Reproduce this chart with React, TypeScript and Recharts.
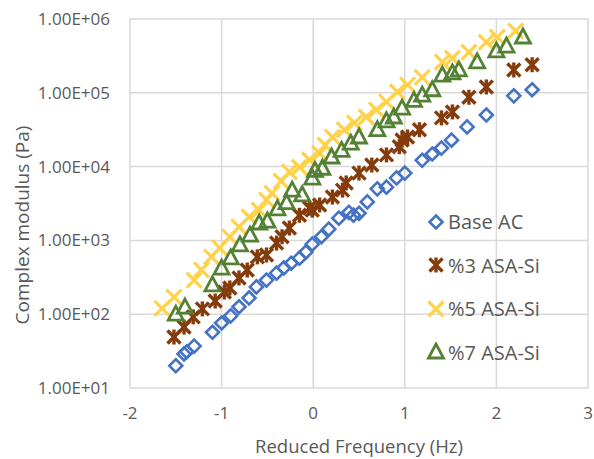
import { CartesianGrid, Legend, Scatter, ScatterChart, XAxis, YAxis } from "recharts";

// Base AC
const baseX = [-1.5, -1.41, -1.38, -1.3, -1.1, -1.0, -0.9, -0.81, -0.7, -0.62, -0.51, -0.4, -0.32, -0.24, -0.15, -0.08, -0.01, 0.09, 0.17, 0.28, 0.39, 0.44, 0.5, 0.59, 0.7, 0.8, 0.91, 1.0, 1.19, 1.3, 1.4, 1.51, 1.68, 1.89, 2.19, 2.39];
const baseY = [20, 29, 31, 37, 57, 76, 95, 126, 166, 234, 290, 360, 425, 490, 575, 695, 890, 1120, 1420, 2000, 2400, 2200, 2330, 3320, 5000, 5270, 7030, 8170, 12200, 14800, 17800, 22800, 34500, 50000, 91000, 110000];

// %3 ASA-Si
const asa3X = [-1.52, -1.41, -1.31, -1.21, -1.07, -0.97, -0.91, -0.81, -0.72, -0.61, -0.51, -0.4, -0.34, -0.26, -0.15, -0.04, -0.01, 0.07, 0.21, 0.32, 0.36, 0.5, 0.64, 0.8, 0.94, 0.97, 1.03, 1.16, 1.4, 1.52, 1.7, 1.89, 2.19, 2.39];
const asa3Y = [49, 67, 92, 118, 151, 200, 227, 310, 397, 598, 635, 920, 1120, 1470, 2190, 2750, 2570, 3020, 3870, 4800, 6000, 8170, 10500, 14400, 18600, 22900, 25200, 31600, 45700, 55000, 87000, 120000, 204000, 240000];

// %5 ASA-Si
const asa5X = [-1.65, -1.52, -1.3, -1.22, -1.11, -1.02, -0.91, -0.81, -0.7, -0.59, -0.51, -0.45, -0.35, -0.26, -0.15, -0.04, 0.07, 0.13, 0.21, 0.34, 0.45, 0.58, 0.69, 0.8, 0.92, 1.03, 1.19, 1.41, 1.52, 1.7, 1.89, 2.01, 2.21];
const asa5Y = [120, 170, 290, 400, 600, 790, 1120, 1520, 2090, 2570, 3540, 4380, 6340, 8500, 9800, 12300, 15100, 19500, 25000, 31500, 39000, 47000, 58700, 75500, 103000, 128000, 162000, 261000, 296000, 355000, 485000, 570000, 690000];

// %7 ASA-Si
const asa7X = [-1.5, -1.4, -1.1, -1.0, -0.9, -0.8, -0.69, -0.59, -0.5, -0.39, -0.29, -0.23, -0.12, -0.01, 0.02, 0.1, 0.2, 0.31, 0.41, 0.5, 0.7, 0.8, 0.88, 0.97, 1.1, 1.19, 1.3, 1.41, 1.52, 1.59, 1.79, 2.0, 2.11, 2.29];
const asa7Y = [100, 125, 250, 420, 580, 870, 1180, 1720, 1830, 2680, 3240, 4800, 4150, 7000, 8900, 9500, 13500, 16600, 20800, 25200, 31600, 41700, 47000, 62000, 79000, 93000, 110000, 174000, 186000, 204000, 263000, 370000, 430000, 570000];

const xTicks = [-2, -1, 0, 1, 2, 3];
const yTicks = [10, 100, 1000, 10000, 100000, 1000000];

const BLUE = "#4472c4";
const BROWN = "#843c0c";
const YELLOW = "#ffd24a";
const GREEN = "#548235";
const TEXT = "#595959";
const FONT = "'Open Sans', sans-serif";

const zip = (xs: number[], ys: number[]) => xs.map((x, i) => ({ x, y: ys[i] }));

const fmtExp = (v: number) => {
    const e = Math.round(Math.log10(v));
    const m = v / Math.pow(10, e);
    return `${m.toFixed(2)}E+${String(e).padStart(2, "0")}`;
};

const Diamond = ({ cx, cy }: any) => (
    <path d={`M${cx},${cy - 6.5} L${cx + 6.5},${cy} L${cx},${cy + 6.5} L${cx - 6.5},${cy} Z`} fill="none" stroke={BLUE} strokeWidth={2.6} />
);

const Star = ({ cx, cy }: any) => (
    <g stroke={BROWN} strokeWidth={3.4} strokeLinecap="butt">
        <line x1={cx - 6.5} y1={cy - 6.5} x2={cx + 6.5} y2={cy + 6.5} />
        <line x1={cx - 6.5} y1={cy + 6.5} x2={cx + 6.5} y2={cy - 6.5} />
        <line x1={cx} y1={cy - 7.5} x2={cx} y2={cy + 7.5} />
    </g>
);

const Cross = ({ cx, cy }: any) => (
    <g stroke={YELLOW} strokeWidth={3.2}>
        <line x1={cx - 7.5} y1={cy - 7.5} x2={cx + 7.5} y2={cy + 7.5} />
        <line x1={cx - 7.5} y1={cy + 7.5} x2={cx + 7.5} y2={cy - 7.5} />
    </g>
);

const Triangle = ({ cx, cy }: any) => (
    <path d={`M${cx},${cy - 8} L${cx + 7.5},${cy + 6} L${cx - 7.5},${cy + 6} Z`} fill="none" stroke={GREEN} strokeWidth={2.8} />
);

const legendItems = [
    { name: "Base AC", Icon: Diamond },
    { name: "%3 ASA-Si", Icon: Star },
    { name: "%5 ASA-Si", Icon: Cross },
    { name: "%7 ASA-Si", Icon: Triangle },
];

const LegendBox = () => (
    <div style={{ fontFamily: FONT, fontSize: 20, color: TEXT }}>
        {legendItems.map(({ name, Icon }) => (
            <div key={name} style={{ display: "flex", alignItems: "center", height: 43.5 }}>
                <svg width={20} height={20} style={{ marginRight: 2 }}>
                    <Icon cx={10} cy={10} />
                </svg>
                <span>{name}</span>
            </div>
        ))}
    </div>
);

const YTitle = () => (
    <text x={22} y={225} transform="rotate(-90, 22, 225)" textAnchor="middle" dominantBaseline="central" fill={TEXT} fontSize={19} fontFamily={FONT}>
        Complex modulus (Pa)
    </text>
);

export default function App() {
    return (
        <div style={{ position: "absolute", left: 0, top: 0 }}>
            <ScatterChart width={594} height={459} margin={{ top: 19, right: 6, bottom: 0, left: 0 }}>
                <CartesianGrid stroke="#d9d9d9" strokeWidth={1.5} />
                <XAxis
                    type="number"
                    dataKey="x"
                    domain={[-2, 3]}
                    ticks={xTicks}
                    height={71}
                    axisLine={false}
                    tickLine={false}
                    tickSize={0}
                    tickMargin={19}
                    tick={{ fill: TEXT, fontSize: 17, fontFamily: FONT }}
                    label={{ value: "Reduced Frequency (Hz)", position: "insideBottom", offset: 6, fill: TEXT, fontSize: 18.5, fontFamily: FONT }}
                />
                <YAxis
                    type="number"
                    dataKey="y"
                    scale="log"
                    domain={[10, 1000000]}
                    ticks={yTicks}
                    tickFormatter={fmtExp}
                    width={130}
                    axisLine={false}
                    tickLine={false}
                    tickSize={0}
                    tickMargin={20}
                    tick={{ fill: TEXT, fontSize: 17, fontFamily: FONT }}
                    label={<YTitle />}
                />
                <Legend
                    layout="vertical"
                    align="center"
                    verticalAlign="middle"
                    content={() => <LegendBox />}
                    wrapperStyle={{ left: 426, top: 200, width: 165 }}
                />
                <Scatter name="Base AC" data={zip(baseX, baseY)} shape={Diamond} isAnimationActive={false} />
                <Scatter name="%3 ASA-Si" data={zip(asa3X, asa3Y)} shape={Star} isAnimationActive={false} />
                <Scatter name="%5 ASA-Si" data={zip(asa5X, asa5Y)} shape={Cross} isAnimationActive={false} />
                <Scatter name="%7 ASA-Si" data={zip(asa7X, asa7Y)} shape={Triangle} isAnimationActive={false} />
            </ScatterChart>
        </div>
    );
}
